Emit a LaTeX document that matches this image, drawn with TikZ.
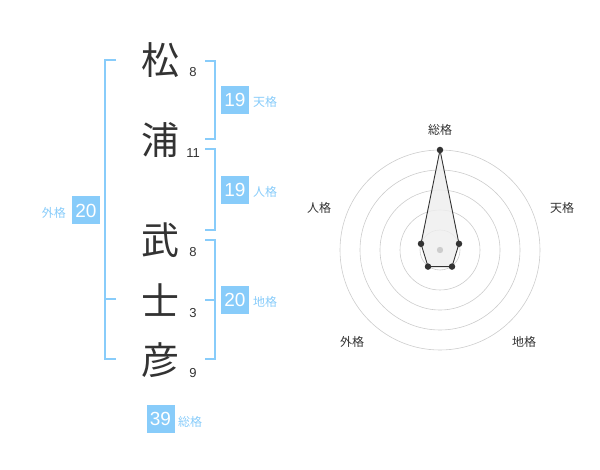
\documentclass[tikz,border=0pt]{standalone}
\usepackage{fontspec}
\setmainfont{Liberation Sans}
\newfontfamily\cjk{Noto Sans CJK JP}
\definecolor{kblue}{RGB}{136,204,250}
\definecolor{kdark}{RGB}{51,51,51}
\definecolor{kring}{RGB}{204,204,204}
\definecolor{kfill}{RGB}{238,238,238}
\begin{document}
\begin{tikzpicture}[x=1pt,y=-1pt,
  chr/.style={font=\cjk\fontsize{38}{38}\selectfont,text=kdark,inner sep=0pt},
  strk/.style={font=\fontsize{13}{13}\selectfont,text=kdark,inner sep=0pt},
  numbox/.style={fill=kblue,text=white,minimum width=28pt,minimum height=28pt,inner sep=0pt,font=\fontsize{19}{19}\selectfont},
  klabel/.style={font=\cjk\fontsize{12}{12}\selectfont,text=kblue,inner sep=0pt},
  rlabel/.style={font=\cjk\fontsize{12}{12}\selectfont,text=kdark,inner sep=0pt},
  brk/.style={draw=kblue,line width=1.7pt},
  ring/.style={draw=kring,line width=0.6pt},
  dot/.style={circle,fill=kdark,inner sep=0pt,minimum size=6.5pt}]
\useasboundingbox (0,0) rectangle (600,470);
% characters
\node[chr] (c1) at (160,60) {松};
\node[chr] (c2) at (160,140) {浦};
\node[chr] (c3) at (160,240) {武};
\node[chr] (c4) at (160,300) {士};
\node[chr] (c5) at (160,360) {彦};
% stroke counts
\node[strk] (s1) at (193,72.5) {8};
\node[strk] (s2) at (193,153) {11};
\node[strk] (s3) at (193,252) {8};
\node[strk] (s4) at (193,313) {3};
\node[strk] (s5) at (193,373) {9};
% brackets
\coordinate (b1a) at (205,61); \coordinate (b1b) at (205,139);
\coordinate (b2a) at (205,149); \coordinate (b2b) at (205,230);
\coordinate (b3a) at (205,240); \coordinate (b3b) at (205,359);
\coordinate (b3m) at (205,300);
\draw[brk] (b1a) -- ++(10,0) |- (b1b);
\draw[brk] (b2a) -- ++(10,0) |- (b2b);
\draw[brk] (b3a) -- ++(10,0) |- (b3b);
\draw[brk] (b3m) -- ++(10,0);
\coordinate (la) at (116,60); \coordinate (lb) at (116,359); \coordinate (lm) at (116,299);
\draw[brk] (la) -- ++(-11,0) |- (lb);
\draw[brk] (lm) -- ++(-11,0);
% boxes
\node[numbox] (ten) at (235,100) {19};
\node[klabel,anchor=west] (tenl) at (253,102) {天格};
\node[numbox] (jin) at (235,190) {19};
\node[klabel,anchor=west] (jinl) at (253,192) {人格};
\node[numbox] (chi) at (235,300) {20};
\node[klabel,anchor=west] (chil) at (253,302) {地格};
\node[numbox] (gai) at (86,210.5) {20};
\node[klabel,anchor=east] (gail) at (66,213) {外格};
\node[numbox] (sou) at (160.5,419) {39};
\node[klabel,anchor=west] (soul) at (178,422) {総格};
% radar
\coordinate (rc) at (440,250);
\foreach \r in {20,40,60,80,100} \draw[ring] (rc) circle[radius=\r];
\coordinate (pS) at (440,150);
\coordinate (pT) at (459,243.8);
\coordinate (pC) at (452,266.6);
\coordinate (pG) at (428,266.6);
\coordinate (pJ) at (421,243.8);
\draw[kdark,line width=0.9pt,fill=kfill,fill opacity=0.8] (pS) -- (pT) -- (pC) -- (pG) -- (pJ) -- cycle;
\fill[kring] (rc) circle[radius=3.2];
\foreach \p in {pS,pT,pC,pG,pJ} \node[dot] at (\p) {};
\node[rlabel] (lS) at (440,130) {総格};
\node[rlabel] (lT) at (562,208) {天格};
\node[rlabel] (lJ) at (319,208) {人格};
\node[rlabel] (lG) at (352,342) {外格};
\node[rlabel] (lC) at (524,342) {地格};
\end{tikzpicture}
\end{document}
